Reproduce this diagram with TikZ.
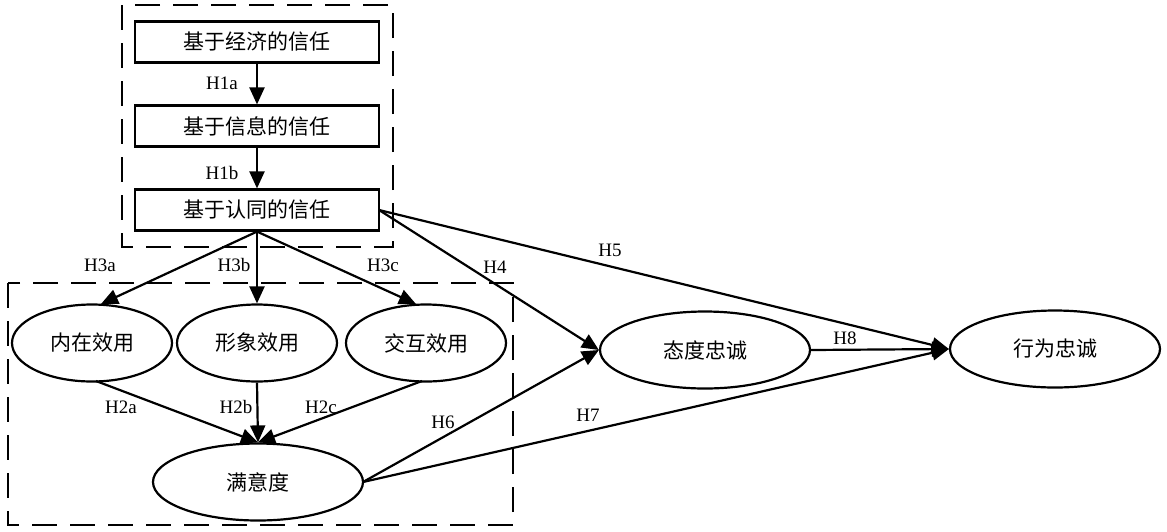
\documentclass[tikz,border=0pt]{standalone}
\usepackage{fontspec}
\setmainfont{Liberation Serif}
\newfontfamily\cjk{Noto Sans CJK SC}
\usetikzlibrary{shapes.geometric,arrows.meta}
\tikzset{
  box/.style={draw,line width=2.2pt,minimum width=244pt,minimum height=41pt,inner sep=0pt,font=\cjk\fontsize{21}{25}\selectfont},
  ell/.style={draw,ellipse,line width=2.2pt,minimum width=160pt,minimum height=77pt,inner sep=0pt,font=\cjk\fontsize{21}{25}\selectfont},
  bigell/.style={ell,minimum width=210pt,minimum height=77pt},
  arr/.style={line width=2.2pt,-{Triangle[length=17pt,width=15pt]}},
  lab/.style={font=\fontsize{19}{23}\selectfont,inner sep=0pt},
  group/.style={draw,line width=2.2pt,dash pattern=on 25pt off 13pt}
}
\begin{document}
\begin{tikzpicture}[x=1pt,y=-1pt]
\useasboundingbox (0,0) rectangle (1167,531);
\fill[white] (0,0) rectangle (1167,531);
% dashed groups
\draw[group] (122,5) rectangle (393,247);
\draw[group] (8,283) rectangle (513,525);
% trust boxes
\node[box] (r1) at (257,42) {基于经济的信任};
\node[box] (r2) at (257,126) {基于信息的信任};
\node[box] (r3) at (257,210) {基于认同的信任};
% value ellipses
\node[ell] (n1) at (92,343) {内在效用};
\node[ell] (n2) at (257,343) {形象效用};
\node[ell] (n3) at (426,343) {交互效用};
\node[bigell] (sat) at (258,482) {满意度};
\node[bigell] (att) at (705,350) {态度忠诚};
\node[bigell] (beh) at (1055,349) {行为忠诚};
% helper coordinates
\coordinate (n1t) at (101,304);
\coordinate (n3t) at (416,304);
\coordinate (n1b) at (96,381);
\coordinate (n3b) at (422,381);
\coordinate (r3r) at (379,210);
\coordinate (satr) at (363,482);
% connectors
\draw[arr] (r1.south) -- (r2.north);
\draw[arr] (r2.south) -- (r3.north);
\draw[arr] (r3.south) -- (n1t);
\draw[arr] (r3.south) -- (n2.north);
\draw[arr] (r3.south) -- (n3t);
\draw[arr] (n1b) -- (sat.north);
\draw[arr] (n2.south) -- (sat.north);
\draw[arr] (n3b) -- (sat.north);
\draw[arr] (r3r) -- (att.west);
\draw[arr] (r3r) -- (beh.west);
\draw[arr] (satr) -- (att.west);
\draw[arr] (satr) -- (beh.west);
\draw[arr] (att.east) -- (beh.west);
% labels
\node[lab] (lh1a) at (222,83) {H1a};
\node[lab] (lh1b) at (222,173) {H1b};
\node[lab] (lh3a) at (100,265) {H3a};
\node[lab] (lh3b) at (234,265) {H3b};
\node[lab] (lh3c) at (383,265) {H3c};
\node[lab] (lh4) at (495,267) {H4};
\node[lab] (lh5) at (610,250) {H5};
\node[lab] (lh2a) at (121,407) {H2a};
\node[lab] (lh2b) at (236,407) {H2b};
\node[lab] (lh2c) at (321,407) {H2c};
\node[lab] (lh6) at (443,422) {H6};
\node[lab] (lh7) at (588,415) {H7};
\node[lab] (lh8) at (845,338) {H8};
\end{tikzpicture}
\end{document}
